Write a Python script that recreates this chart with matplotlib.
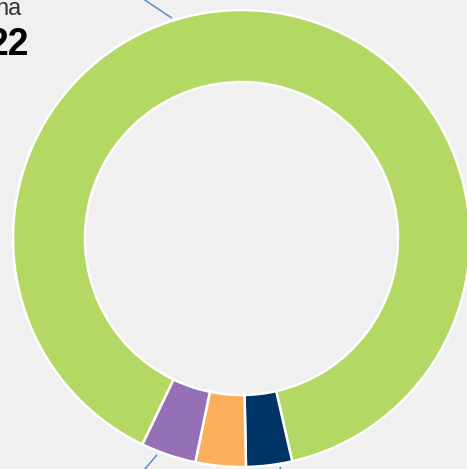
import numpy as np
import matplotlib
matplotlib.use('Agg')
import matplotlib.pyplot as plt

# 데이터 (시계 방향: 초록, 남색, 주황, 보라)
values = [89.3, 3.25, 3.55, 3.9]
colors = ['#b3d864', '#003464', '#fdae5c', '#9670b6']
label_top = 'na'
value_top = '22'

W, H = 467, 469
bg = '#eff0ef'
cx, cy = 241.5, H - 238.5
r_out, r_in = 228.5, 156.5

fig = plt.figure(figsize=(W / 100, H / 100), dpi=100, facecolor=bg)
ax = fig.add_axes([0, 0, 1, 1])
ax.set_facecolor(bg)

ax.pie(values, colors=colors, center=(cx, cy), radius=r_out,
       startangle=90 - 205.7, counterclock=False,
       wedgeprops=dict(width=r_out - r_in, edgecolor='white', linewidth=1.8))

ax.set_xlim(0, W)
ax.set_ylim(0, H)
ax.set_aspect('equal')
ax.axis('off')

# 지시선 (시계 방향 각도, 반지름, 방향)
leaders = [(342.5, 231, (-27, 18), 60),
           (201.3, 232, (-12, -14), 30),
           (170.2, 232, (-8, -12), 30)]
for ang, r, d, n in leaders:
    t = np.deg2rad(ang)
    x0 = cx + r * np.sin(t)
    y0 = cy + r * np.cos(t)
    ax.plot([x0, x0 + d[0] * n / 10], [y0, y0 + d[1] * n / 10],
            color='#6088d8', lw=1.1, solid_capstyle='butt', clip_on=True)

ax.text(22, H - 15, label_top, ha='right', va='baseline', fontsize=17,
        color='#333333', family='Liberation Sans')
ax.text(29.5, H - 55, value_top, ha='right', va='baseline', fontsize=27,
        color='black', fontweight='bold', family='Liberation Sans')

fig.savefig('out.png', dpi=100, facecolor=bg)
